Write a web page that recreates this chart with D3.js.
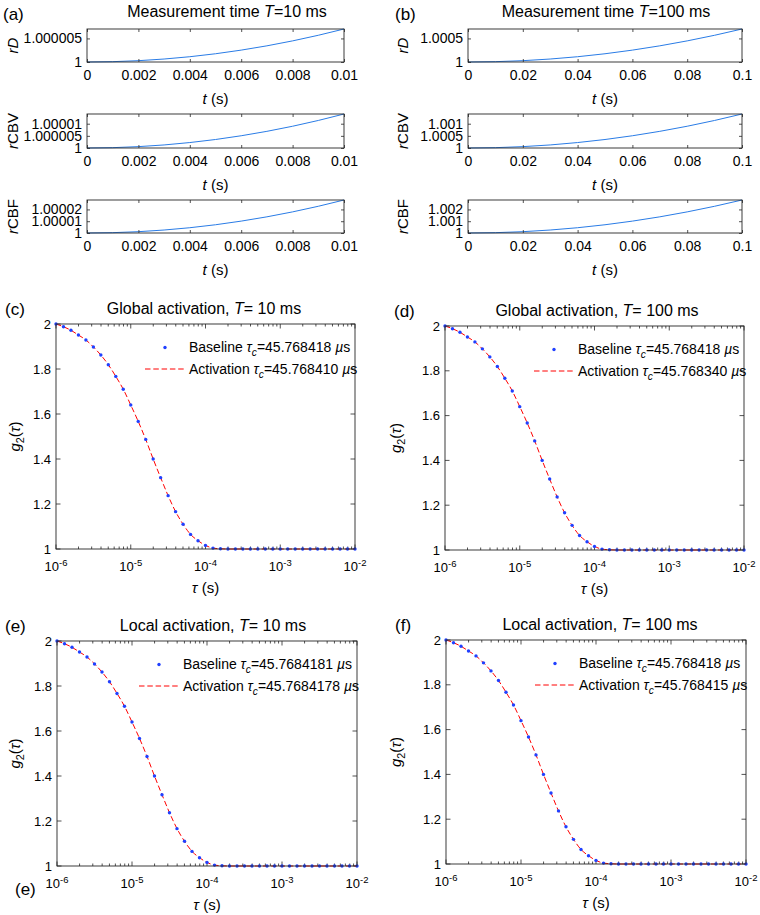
<!DOCTYPE html>
<html><head><meta charset="utf-8">
<script src="https://cdn.jsdelivr.net/npm/d3@7"></script>
<style>
body{margin:0;background:#fff}
svg{display:block}
text{font-family:"Liberation Sans",Arial,Helvetica,sans-serif;fill:#000}
</style>
</head><body>
<svg id="chart" width="760" height="915"></svg>
<script>
// ---------------- DATA ----------------
const tTicks10 = [0, 0.002, 0.004, 0.006, 0.008, 0.01];
const tTickLabels10 = ["0", "0.002", "0.004", "0.006", "0.008", "0.01"];
const tTicks100 = [0, 0.02, 0.04, 0.06, 0.08, 0.1];
const tTickLabels100 = ["0", "0.02", "0.04", "0.06", "0.08", "0.1"];

const t10 = [0, 0.001, 0.002, 0.003, 0.004, 0.005, 0.006, 0.007, 0.008, 0.009, 0.01];
const t100 = [0, 0.01, 0.02, 0.03, 0.04, 0.05, 0.06, 0.07, 0.08, 0.09, 0.1];

const rD10 = [1, 1.00000007, 1.00000028, 1.00000063, 1.00000112, 1.00000175, 1.00000252, 1.00000343, 1.00000448, 1.00000567, 1.000007];
const rCBV10 = [1, 1.00000014, 1.00000056, 1.00000126, 1.00000224, 1.0000035, 1.00000504, 1.00000686, 1.00000896, 1.00001134, 1.000014];
const rCBF10 = [1, 1.00000028, 1.00000112, 1.00000252, 1.00000448, 1.000007, 1.00001008, 1.00001372, 1.00001792, 1.00002268, 1.000028];
const rD100 = [1, 1.000007, 1.000028, 1.000063, 1.000112, 1.000175, 1.000252, 1.000343, 1.000448, 1.000567, 1.0007];
const rCBV100 = [1, 1.000014, 1.000056, 1.000126, 1.000224, 1.00035, 1.000504, 1.000686, 1.000896, 1.001134, 1.0014];
const rCBF100 = [1, 1.000028, 1.000112, 1.000252, 1.000448, 1.0007, 1.001008, 1.001372, 1.001792, 1.002268, 1.0028];

const rDTicks10 = [1, 1.000005], rDTickLabels10 = ["1", "1.000005"];
const rCBVTicks10 = [1, 1.000005, 1.00001], rCBVTickLabels10 = ["1", "1.000005", "1.00001"];
const rCBFTicks10 = [1, 1.00001, 1.00002], rCBFTickLabels10 = ["1", "1.00001", "1.00002"];
const rDTicks100 = [1, 1.0005], rDTickLabels100 = ["1", "1.0005"];
const rCBVTicks100 = [1, 1.0005, 1.001], rCBVTickLabels100 = ["1", "1.0005", "1.001"];
const rCBFTicks100 = [1, 1.001, 1.002], rCBFTickLabels100 = ["1", "1.001", "1.002"];

// correlation-time grid (10 points per decade, 1e-6 .. 1e-2 s)
const tau = [1e-6, 1.259e-6, 1.585e-6, 1.995e-6, 2.512e-6, 3.162e-6, 3.981e-6, 5.012e-6, 6.310e-6, 7.943e-6,
  1e-5, 1.259e-5, 1.585e-5, 1.995e-5, 2.512e-5, 3.162e-5, 3.981e-5, 5.012e-5, 6.310e-5, 7.943e-5,
  1e-4, 1.259e-4, 1.585e-4, 1.995e-4, 2.512e-4, 3.162e-4, 3.981e-4, 5.012e-4, 6.310e-4, 7.943e-4,
  1e-3, 1.259e-3, 1.585e-3, 1.995e-3, 2.512e-3, 3.162e-3, 3.981e-3, 5.012e-3, 6.310e-3, 7.943e-3, 1e-2];
const g2Baseline = [2.000, 1.988, 1.972, 1.951, 1.929, 1.898, 1.862, 1.819, 1.767, 1.710,
  1.640, 1.567, 1.487, 1.400, 1.317, 1.237, 1.166, 1.110, 1.065, 1.037,
  1.016, 1.004, 1.001, 1.000, 1.000, 1.000, 1.000, 1.000, 1.000, 1.000,
  1.000, 1.000, 1.000, 1.000, 1.000, 1.000, 1.000, 1.000, 1.000, 1.000, 1.000];
const g2Activation = [2.000, 1.988, 1.972, 1.951, 1.929, 1.898, 1.862, 1.819, 1.767, 1.710,
  1.640, 1.567, 1.487, 1.400, 1.317, 1.237, 1.166, 1.110, 1.065, 1.037,
  1.016, 1.004, 1.001, 1.000, 1.000, 1.000, 1.000, 1.000, 1.000, 1.000,
  1.000, 1.000, 1.000, 1.000, 1.000, 1.000, 1.000, 1.000, 1.000, 1.000, 1.000];
const tauTicks = [1e-6, 1e-5, 1e-4, 1e-3, 1e-2];
const tauTickExp = ["-6", "-5", "-4", "-3", "-2"];
const g2Ticks = [1, 1.2, 1.4, 1.6, 1.8, 2];
const g2TickLabels = ["1", "1.2", "1.4", "1.6", "1.8", "2"];

const tcBaseline = ["45.768418", "45.768418", "45.7684181", "45.768418"];
const tcActivation = ["45.768410", "45.768340", "45.7684178", "45.768415"];

// ---------------- DRAW ----------------
const svg = d3.select("#chart");
const AX = "#262626";
const BLUE_LINE = "#2a7ce6";
const FONT = '"Liberation Sans",Arial,Helvetica,sans-serif';
const DASH = "5.5,2.8";

function addRich(sel, parts) {
  parts.forEach(p => {
    const ts = sel.append("tspan").text(p.t);
    if (p.i) ts.attr("font-style", "italic");
    if (p.sub) ts.style("font-size", p.fs || "0.72em");
    if (p.dy) ts.attr("dy", p.dy);
  });
}

function smallPanel(cfg) {
  const g = svg.append("g");
  const x = d3.scaleLinear().domain([0, cfg.tmax]).range([cfg.left, cfg.right]);
  const y = d3.scaleLinear().domain([1, cfg.ymax]).range([cfg.bottom, cfg.top]);
  g.append("path").datum(cfg.t.map((d, i) => [d, cfg.v[i]]))
    .attr("fill", "none").attr("stroke", BLUE_LINE).attr("stroke-width", 1)
    .attr("d", d3.line().x(d => x(d[0])).y(d => y(d[1])).curve(d3.curveMonotoneX));
  const xb = g.append("g").attr("transform", `translate(0,${cfg.bottom})`)
    .call(d3.axisBottom(x).tickValues(cfg.xTicks).tickFormat((d, i) => cfg.xLabels[i]).tickSizeInner(-3).tickSizeOuter(0).tickPadding(8));
  const yl = g.append("g").attr("transform", `translate(${cfg.left},0)`)
    .call(d3.axisLeft(y).tickValues(cfg.yTicks).tickFormat((d, i) => cfg.yLabels[i]).tickSizeInner(-3).tickSizeOuter(0).tickPadding(5));
  const xt = g.append("g").attr("transform", `translate(0,${cfg.top})`)
    .call(d3.axisTop(x).tickValues(cfg.xTicks).tickFormat("").tickSizeInner(-3).tickSizeOuter(0));
  const yr = g.append("g").attr("transform", `translate(${cfg.right},0)`)
    .call(d3.axisRight(y).tickValues(cfg.yTicks).tickFormat("").tickSizeInner(-3).tickSizeOuter(0));
  [xb, yl, xt, yr].forEach(a => {
    a.select(".domain").remove();
    a.attr("font-family", FONT);
    a.selectAll("line").attr("stroke", AX).attr("stroke-width", 0.8);
  });
  xb.attr("font-size", 14).selectAll("text").style("font-size", "14px").attr("fill", "#000");
  yl.attr("font-size", 14).selectAll("text").style("font-size", "14px").attr("fill", "#000");
  g.append("rect").attr("x", cfg.left).attr("y", cfg.top).attr("width", cfg.right - cfg.left).attr("height", cfg.bottom - cfg.top)
    .attr("fill", "none").attr("stroke", AX).attr("stroke-width", 0.9);
  const xlab = g.append("text").attr("x", (cfg.left + cfg.right) / 2).attr("y", cfg.bottom + 42)
    .attr("text-anchor", "middle").style("font-size", "15px");
  addRich(xlab, [{ t: "t", i: true }, { t: " (s)" }]);
  const ylab = g.append("text").attr("transform", `translate(${cfg.ylx},${(cfg.top + cfg.bottom) / 2}) rotate(-90)`)
    .attr("text-anchor", "middle").style("font-size", "15px");
  addRich(ylab, cfg.ylabel);
}

const colA = { left: 87, right: 344, tmax: 0.01, xTicks: tTicks10, xLabels: tTickLabels10, t: t10, ylx: 18 };
const colB = { left: 468, right: 742, tmax: 0.1, xTicks: tTicks100, xLabels: tTickLabels100, t: t100, ylx: 408 };
const rows = [{ top: 29, bottom: 62 }, { top: 114, bottom: 148 }, { top: 200, bottom: 233 }];
const ylabRD = [{ t: "r", i: true }, { t: "D", i: true }];
const ylabCBV = [{ t: "r", i: true }, { t: "CBV" }];
const ylabCBF = [{ t: "r", i: true }, { t: "CBF" }];

smallPanel({ ...colA, ...rows[0], v: rD10, ymax: 1.000007, yTicks: rDTicks10, yLabels: rDTickLabels10, ylabel: ylabRD });
smallPanel({ ...colA, ...rows[1], v: rCBV10, ymax: 1.000014, yTicks: rCBVTicks10, yLabels: rCBVTickLabels10, ylabel: ylabCBV });
smallPanel({ ...colA, ...rows[2], v: rCBF10, ymax: 1.000028, yTicks: rCBFTicks10, yLabels: rCBFTickLabels10, ylabel: ylabCBF });
smallPanel({ ...colB, ...rows[0], v: rD100, ymax: 1.0007, yTicks: rDTicks100, yLabels: rDTickLabels100, ylabel: ylabRD });
smallPanel({ ...colB, ...rows[1], v: rCBV100, ymax: 1.0014, yTicks: rCBVTicks100, yLabels: rCBVTickLabels100, ylabel: ylabCBV });
smallPanel({ ...colB, ...rows[2], v: rCBF100, ymax: 1.0028, yTicks: rCBFTicks100, yLabels: rCBFTickLabels100, ylabel: ylabCBF });

function title(xc, yb, parts, fs) {
  const t = svg.append("text").attr("x", xc).attr("y", yb).attr("text-anchor", "middle").style("font-size", (fs || 16) + "px");
  addRich(t, parts);
}
function plabel(x, yb, s) {
  svg.append("text").attr("x", x).attr("y", yb).style("font-size", "17px").text(s);
}
title(227, 17, [{ t: "Measurement time " }, { t: "T", i: true }, { t: "=10 ms" }], 16);
title(606, 17, [{ t: "Measurement time " }, { t: "T", i: true }, { t: "=100 ms" }], 16);
plabel(3, 20, "(a)");
plabel(395, 20, "(b)");

function g2Panel(cfg) {
  const g = svg.append("g");
  const x = d3.scaleLog().domain([1e-6, 1e-2]).range([cfg.left, cfg.right]);
  const y = d3.scaleLinear().domain([1, 2]).range([cfg.bottom, cfg.top]);
  const minor = [];
  for (let e = -6; e < -2; e++) for (let m = 2; m <= 9; m++) minor.push(m * Math.pow(10, e));
  const tk = g.append("g").attr("stroke", AX).attr("stroke-width", 0.8);
  minor.forEach(v => {
    tk.append("line").attr("x1", x(v)).attr("x2", x(v)).attr("y1", cfg.bottom).attr("y2", cfg.bottom - 2.5);
    tk.append("line").attr("x1", x(v)).attr("x2", x(v)).attr("y1", cfg.top).attr("y2", cfg.top + 2.5);
  });
  tauTicks.forEach(v => {
    tk.append("line").attr("x1", x(v)).attr("x2", x(v)).attr("y1", cfg.bottom).attr("y2", cfg.bottom - 4.5);
    tk.append("line").attr("x1", x(v)).attr("x2", x(v)).attr("y1", cfg.top).attr("y2", cfg.top + 4.5);
  });
  g2Ticks.forEach(v => {
    tk.append("line").attr("x1", cfg.left).attr("x2", cfg.left + 4.5).attr("y1", y(v)).attr("y2", y(v));
    tk.append("line").attr("x1", cfg.right).attr("x2", cfg.right - 4.5).attr("y1", y(v)).attr("y2", y(v));
  });
  tauTicks.forEach((v, i) => {
    const t = g.append("text").attr("x", x(v)).attr("y", cfg.bottom + 22).attr("text-anchor", "middle").style("font-size", "13px");
    t.append("tspan").text("10");
    t.append("tspan").text(tauTickExp[i]).style("font-size", "9.5px").attr("dy", -5.5);
  });
  g2Ticks.forEach((v, i) => {
    g.append("text").attr("x", cfg.left - 5).attr("y", y(v) + 4.5).attr("text-anchor", "end").style("font-size", "13px").text(g2TickLabels[i]);
  });
  const pts = tau.map((d, i) => [d, g2Baseline[i]]);
  const act = tau.map((d, i) => [d, g2Activation[i]]);
  g.append("path").datum(act).attr("fill", "none").attr("stroke", "#ff0000").attr("stroke-width", 1)
    .attr("stroke-dasharray", DASH)
    .attr("d", d3.line().x(d => x(d[0])).y(d => y(d[1])).curve(d3.curveMonotoneX));
  g.selectAll("circle.pt").data(pts).enter().append("circle").attr("class", "pt")
    .attr("cx", d => x(d[0])).attr("cy", d => y(d[1])).attr("r", 1.7).attr("fill", "#2040ff");
  g.append("rect").attr("x", cfg.left).attr("y", cfg.top).attr("width", cfg.right - cfg.left).attr("height", cfg.bottom - cfg.top)
    .attr("fill", "none").attr("stroke", AX).attr("stroke-width", 0.9);
  // legend
  const lx = cfg.left + cfg.lgx, ly = cfg.top;
  g.append("circle").attr("cx", lx + 20).attr("cy", ly + 23.5).attr("r", 1.7).attr("fill", "#2040ff");
  g.append("line").attr("x1", lx).attr("x2", lx + 39).attr("y1", ly + 45).attr("y2", ly + 45)
    .attr("stroke", "#ff0000").attr("stroke-width", 1).attr("stroke-dasharray", DASH);
  const l1 = g.append("text").attr("x", lx + 44).attr("y", ly + 28).style("font-size", "14px");
  addRich(l1, [{ t: "Baseline " }, { t: "τ", i: true }, { t: "c", i: true, sub: true, dy: 4 }, { t: "=" + cfg.tb + " ", dy: -4 }, { t: "µ", i: true }, { t: "s" }]);
  const l2 = g.append("text").attr("x", lx + 44).attr("y", ly + 49.5).style("font-size", "14px");
  addRich(l2, [{ t: "Activation " }, { t: "τ", i: true }, { t: "c", i: true, sub: true, dy: 4 }, { t: "=" + cfg.ta + " ", dy: -4 }, { t: "µ", i: true }, { t: "s" }]);
  const xlab = g.append("text").attr("x", (cfg.left + cfg.right) / 2).attr("y", cfg.bottom + 44).attr("text-anchor", "middle").style("font-size", "15px");
  addRich(xlab, [{ t: "τ", i: true }, { t: " (s)" }]);
  const ylab = g.append("text").attr("transform", `translate(${cfg.ylx},${(cfg.top + cfg.bottom) / 2}) rotate(-90)`)
    .attr("text-anchor", "middle").style("font-size", "15px");
  addRich(ylab, [{ t: "g", i: true }, { t: "2", sub: true, dy: 4 }, { t: "(", dy: -4 }, { t: "τ", i: true }, { t: ")" }]);
  title(cfg.tx, cfg.top - 10, [{ t: cfg.kind + " activation, " }, { t: "T", i: true }, { t: "= " + cfg.T + " ms" }], 16);
  plabel(cfg.plx, cfg.top - 9, cfg.pl);
}

g2Panel({ left: 56, right: 355, top: 324, bottom: 549, lgx: 89, tb: tcBaseline[0], ta: tcActivation[0], ylx: 20, tx: 204, kind: "Global", T: "10", pl: "(c)", plx: 5 });
g2Panel({ left: 445, right: 744, top: 326, bottom: 550, lgx: 89, tb: tcBaseline[1], ta: tcActivation[1], ylx: 401, tx: 597, kind: "Global", T: "100", pl: "(d)", plx: 394 });
g2Panel({ left: 57, right: 357, top: 641, bottom: 866, lgx: 82, tb: tcBaseline[2], ta: tcActivation[2], ylx: 20, tx: 213, kind: "Local", T: "10", pl: "(e)", plx: 5 });
g2Panel({ left: 446, right: 746, top: 640, bottom: 864, lgx: 89, tb: tcBaseline[3], ta: tcActivation[3], ylx: 401, tx: 600, kind: "Local", T: "100", pl: "(f)", plx: 395 });
plabel(15, 895, "(e)");
</script>
</body></html>
